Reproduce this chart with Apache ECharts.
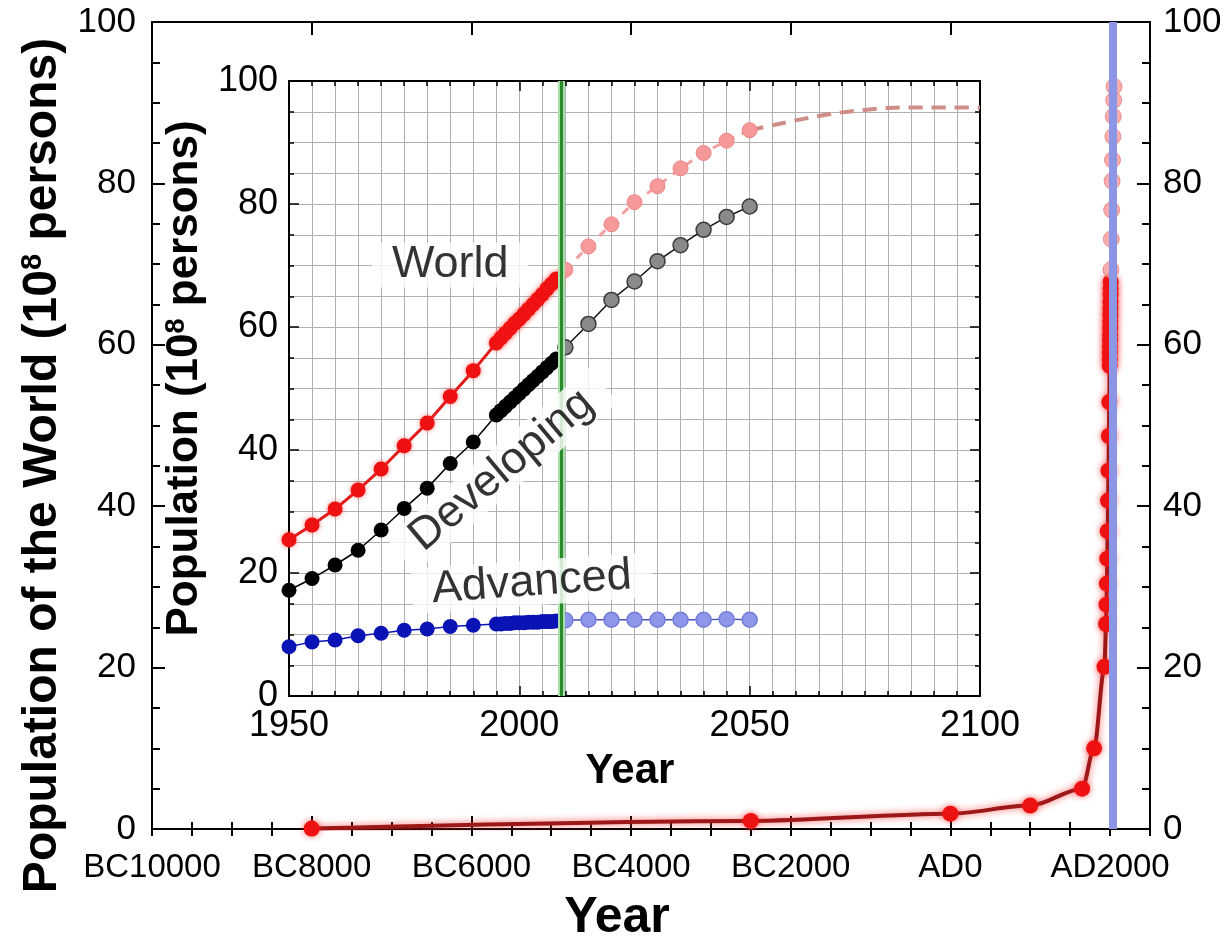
<!DOCTYPE html>
<html><head><meta charset="utf-8">
<script src="https://cdn.jsdelivr.net/npm/echarts@6/dist/echarts.min.js"></script>
<style>html,body{margin:0;padding:0;background:#fff}#c{width:1228px;height:946px}</style>
</head><body><div id="c"></div>
<script>
// ---------- data ----------
const histYears  = [-8000, -2500, 0, 1000, 1650, 1800, 1930];
const histValues = [0.05, 1.0, 1.9, 2.9, 5.0, 10.0, 20.1];

const obsYears = [1950,1955,1960,1965,1970,1975,1980,1985,1990,
                  1995,1996,1997,1998,1999,2000,2001,2002,2003,2004,2005,2006,2007,2008];
const worldObs      = [25.4,27.8,30.4,33.5,36.9,40.7,44.4,48.7,52.9,
                       57.4,58.2,59.0,59.8,60.6,61.3,62.1,62.9,63.7,64.5,65.3,66.2,67.0,67.8];
const developingObs = [17.2,19.1,21.3,23.7,27.0,30.5,33.8,37.8,41.3,
                       45.7,46.4,47.1,47.8,48.5,49.2,49.9,50.6,51.3,52.0,52.7,53.4,54.1,54.8];
const advancedObs   = [8.0,8.8,9.1,9.8,10.2,10.7,10.9,11.3,11.5,
                       11.7,11.7,11.8,11.8,11.9,11.9,11.9,12.0,12.0,12.0,12.1,12.1,12.1,12.2];

const projYears      = [2010,2015,2020,2025,2030,2035,2040,2045,2050];
const worldProj      = [69.3,73.1,76.7,80.3,82.9,85.8,88.3,90.3,92.0];
const developingProj = [56.7,60.5,64.4,67.4,70.7,73.3,75.8,77.9,79.6];
const advancedProj   = [12.3,12.4,12.4,12.4,12.4,12.4,12.4,12.5,12.4];

const longYears = [2050,2055,2060,2065,2070,2075,2080,2085,2090,2095,2100];
const worldLong = [92.0,92.8,93.6,94.3,94.9,95.3,95.6,95.7,95.7,95.7,95.7];

const insetPresentYear = 2009;   // green line (inset)
const mainPresentYear  = 2035;   // blue band (main)

const annotations = [
  {name:'World',      x:1985,   y:70.1, rotate:0},
  {name:'Developing', x:1996.2, y:36.7, rotate:40},
  {name:'Advanced',   x:2002.7, y:18.4, rotate:4}
];

// ---------- helpers ----------
const FONT = "'Liberation Sans', Arial, Helvetica, sans-serif";
const zip = (xs, ys) => xs.map((x, i) => [x, ys[i]]);
const fmtYear = v => v < 0 ? 'BC' + (-v) : 'AD' + v;
const plain = v => String(v);
const blackLine = {show:true, onZero:false, lineStyle:{color:'#000', width:2}};
const tickStyle = w => ({color:'#000', width:w});

const chart = echarts.init(document.getElementById('c'));

const option = {
  animation:false,
  backgroundColor:'#fff',
  grid:[
    {left:152, top:22, width:998, height:807, containLabel:false, outerBoundsMode:'none'},
    {left:289, top:81, width:691, height:615, containLabel:false, outerBoundsMode:'none',
     show:true, backgroundColor:'#fff', borderColor:'#000', borderWidth:2}
  ],
  xAxis:[
    { // 0 main bottom (major + labels)
      type:'value', gridIndex:0, position:'bottom', min:-10000, max:2500, interval:2000,
      axisLine:blackLine,
      axisTick:{show:true, inside:true, length:13, lineStyle:tickStyle(2)},
      axisLabel:{show:true, margin:22, fontSize:33, fontFamily:FONT, color:'#000',
                 formatter:fmtYear, showMaxLabel:false, showMinLabel:true, hideOverlap:false},
      splitLine:{show:false},
      name:'Year', nameLocation:'middle', nameGap:64,
      nameTextStyle:{fontSize:50, fontWeight:'bold', fontFamily:FONT, color:'#000', padding:[0,68,0,0]}
    },
    { // 1 main bottom minor
      type:'value', gridIndex:0, position:'bottom', min:-10000, max:2500, interval:500,
      axisLine:{show:false}, axisTick:{show:true, inside:true, length:7, lineStyle:tickStyle(2)},
      axisLabel:{show:false}, splitLine:{show:false}
    },
    { // 2 main top major
      type:'value', gridIndex:0, position:'top', min:-10000, max:2500, interval:2000,
      axisLine:blackLine, axisTick:{show:true, inside:true, length:13, lineStyle:tickStyle(2)},
      axisLabel:{show:false}, splitLine:{show:false}
    },
    { // 3 main top minor
      type:'value', gridIndex:0, position:'top', min:-10000, max:2500, interval:500,
      axisLine:{show:false}, axisTick:{show:true, inside:true, length:7, lineStyle:tickStyle(2)},
      axisLabel:{show:false}, splitLine:{show:false}
    },
    { // 4 inset bottom
      type:'value', gridIndex:1, position:'bottom', min:1950, max:2100, interval:50,
      axisLine:blackLine,
      axisTick:{show:true, inside:true, length:10, lineStyle:tickStyle(1.5)},
      minorTick:{show:true, splitNumber:10, length:5, lineStyle:tickStyle(1.5)},
      axisLabel:{show:true, margin:12, fontSize:36, fontFamily:FONT, color:'#000', formatter:plain},
      splitLine:{show:true, lineStyle:{color:'#b0b0b0', width:1}},
      minorSplitLine:{show:true, lineStyle:{color:'#b0b0b0', width:1}},
      name:'Year', nameLocation:'middle', nameGap:54,
      nameTextStyle:{fontSize:42, fontWeight:'bold', fontFamily:FONT, color:'#000', padding:[0,9,0,0]}
    },
    { // 5 inset top
      type:'value', gridIndex:1, position:'top', min:1950, max:2100, interval:50,
      axisLine:blackLine,
      axisTick:{show:true, inside:true, length:10, lineStyle:tickStyle(1.5)},
      minorTick:{show:true, splitNumber:10, length:5, lineStyle:tickStyle(1.5)},
      axisLabel:{show:false}, splitLine:{show:false}
    }
  ],
  yAxis:[
    { // 0 main left
      type:'value', gridIndex:0, position:'left', min:0, max:100, interval:20,
      axisLine:blackLine,
      axisTick:{show:true, inside:true, length:13, lineStyle:tickStyle(2)},
      minorTick:{show:true, splitNumber:4, length:8, lineStyle:tickStyle(2)},
      axisLabel:{show:true, margin:16, fontSize:35, fontFamily:FONT, color:'#000'},
      splitLine:{show:false},
      name:'Population of the World (10{sup|8} persons)', nameLocation:'middle', nameGap:76,
      nameTextStyle:{fontSize:48, fontWeight:'bold', fontFamily:FONT, color:'#000', padding:[0,80,0,0],
        rich:{sup:{fontSize:29, fontWeight:'bold', fontFamily:FONT, color:'#000', verticalAlign:'top'}}}
    },
    { // 1 main right
      type:'value', gridIndex:0, position:'right', min:0, max:100, interval:20,
      axisLine:blackLine,
      axisTick:{show:true, inside:true, length:13, lineStyle:tickStyle(2)},
      minorTick:{show:true, splitNumber:4, length:8, lineStyle:tickStyle(2)},
      axisLabel:{show:true, margin:13, fontSize:35, fontFamily:FONT, color:'#000'},
      splitLine:{show:false}
    },
    { // 2 inset left
      type:'value', gridIndex:1, position:'left', min:0, max:100, interval:20,
      axisLine:blackLine,
      axisTick:{show:true, inside:true, length:10, lineStyle:tickStyle(1.5)},
      minorTick:{show:true, splitNumber:4, length:5, lineStyle:tickStyle(1.5)},
      axisLabel:{show:true, margin:11, fontSize:36, fontFamily:FONT, color:'#000'},
      splitLine:{show:true, lineStyle:{color:'#b0b0b0', width:1}},
      minorSplitLine:{show:true, lineStyle:{color:'#b0b0b0', width:1}},
      name:'Population (10{sup|8} persons)', nameLocation:'middle', nameGap:60,
      nameTextStyle:{fontSize:44, fontWeight:'bold', fontFamily:FONT, color:'#000', padding:[0,0,0,20],
        rich:{sup:{fontSize:27, fontWeight:'bold', fontFamily:FONT, color:'#000', verticalAlign:'top'}}}
    },
    { // 3 inset right
      type:'value', gridIndex:1, position:'right', min:0, max:100, interval:20,
      axisLine:blackLine,
      axisTick:{show:true, inside:true, length:10, lineStyle:tickStyle(1.5)},
      minorTick:{show:true, splitNumber:4, length:5, lineStyle:tickStyle(1.5)},
      axisLabel:{show:false}, splitLine:{show:false}
    }
  ],
  series:[
    // ----- main chart -----
    { type:'line', name:'presentMain', xAxisIndex:0, yAxisIndex:0, data:[], z:1, silent:true,
      markLine:{silent:true, symbol:'none', label:{show:false},
        data:[{xAxis:mainPresentYear}], lineStyle:{color:'#8d95e5', width:8, type:'solid'}} },
    { type:'line', name:'World history', xAxisIndex:0, yAxisIndex:0, z:3,
      data: zip(histYears.concat(obsYears), histValues.concat(worldObs)),
      smooth:0.3, smoothMonotone:'x', symbol:'circle', symbolSize:16,
      itemStyle:{color:'#ee1111', shadowColor:'rgba(255,40,40,0.7)', shadowBlur:6},
      lineStyle:{color:'#9c1818', width:4, shadowColor:'rgba(255,50,50,0.8)', shadowBlur:7} },
    { type:'scatter', name:'World proj main', xAxisIndex:0, yAxisIndex:0, z:3,
      data: zip(projYears, worldProj), symbol:'circle', symbolSize:16,
      itemStyle:{color:'#f5999a', borderColor:'#e57f80', borderWidth:1} },

    // ----- inset -----
    { type:'line', name:'presentInset', xAxisIndex:4, yAxisIndex:2, data:[], z:2, silent:true,
      markLine:{silent:true, symbol:'none', label:{show:false},
        data:[
          {xAxis:insetPresentYear, lineStyle:{color:'#a9dfa9', width:7, type:'solid'}},
          {xAxis:insetPresentYear, lineStyle:{color:'#2b8a2b', width:3, type:'solid'}}
        ]} },
    { type:'line', name:'World long', xAxisIndex:4, yAxisIndex:2, z:3,
      data: zip(longYears, worldLong), smooth:0.4, symbol:'none',
      lineStyle:{color:'#cf8d88', width:4, type:[14,9]} },
    { type:'line', name:'World proj', xAxisIndex:4, yAxisIndex:2, z:3,
      data: zip(projYears, worldProj), symbol:'circle', symbolSize:15,
      itemStyle:{color:'#f5999a', borderColor:'#ee8585', borderWidth:1},
      lineStyle:{color:'#f0a09f', width:3, type:[8,8]} },
    { type:'line', name:'World', xAxisIndex:4, yAxisIndex:2, z:4,
      data: zip(obsYears, worldObs), symbol:'circle', symbolSize:15,
      itemStyle:{color:'#ee1111', shadowColor:'rgba(255,40,40,0.6)', shadowBlur:5},
      lineStyle:{color:'#e21c1c', width:3} },
    { type:'line', name:'Developing proj', xAxisIndex:4, yAxisIndex:2, z:3,
      data: zip(projYears, developingProj), symbol:'circle', symbolSize:15,
      itemStyle:{color:'#8a8a8a', borderColor:'#3c3c3c', borderWidth:1.5},
      lineStyle:{color:'#111', width:1.5} },
    { type:'line', name:'Developing', xAxisIndex:4, yAxisIndex:2, z:4,
      data: zip(obsYears, developingObs), symbol:'circle', symbolSize:15,
      itemStyle:{color:'#000'}, lineStyle:{color:'#000', width:1.5} },
    { type:'line', name:'Advanced proj', xAxisIndex:4, yAxisIndex:2, z:3,
      data: zip(projYears, advancedProj), symbol:'circle', symbolSize:15,
      itemStyle:{color:'#8e96ea', borderColor:'#747cd8', borderWidth:1.5},
      lineStyle:{color:'#4a52b8', width:1.5} },
    { type:'line', name:'Advanced', xAxisIndex:4, yAxisIndex:2, z:4,
      data: zip(obsYears, advancedObs), symbol:'circle', symbolSize:15,
      itemStyle:{color:'#0a14b4'}, lineStyle:{color:'#0a14b4', width:1.5} },

    // ----- text labels -----
    { type:'scatter', name:'labels', xAxisIndex:4, yAxisIndex:2, z:6, silent:true,
      symbolSize:0,
      data: annotations.map(a => ({name:a.name, value:[a.x, a.y],
        label:{rotate:a.rotate}})),
      label:{show:true, position:'inside', formatter:p => p.name,
        fontSize:45, fontFamily:FONT, color:'#000', backgroundColor:'#fff', padding:[0,20]} }
  ]
};
chart.setOption(option);
</script>
</body></html>
